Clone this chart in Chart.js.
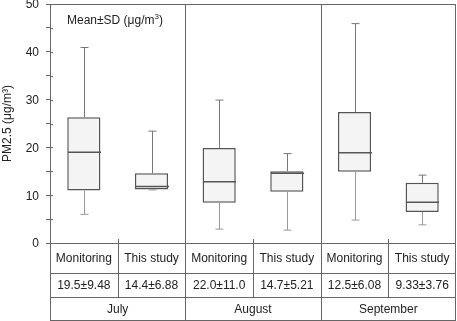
<!DOCTYPE html>
<html>
<head>
<meta charset="utf-8">
<script src="https://cdn.jsdelivr.net/npm/chart.js@4.4.1/dist/chart.umd.min.js"></script>
<style>
  html, body { margin: 0; padding: 0; background: #fff; }
  #wrap { width: 457px; height: 321px; }
</style>
</head>
<body>
<div id="wrap"><canvas id="c"></canvas></div>
<script>
/* data */
const categories = ["Monitoring", "This study", "Monitoring", "This study", "Monitoring", "This study"];
const months = ["July", "August", "September"];
const meanSd = ["19.5±9.48", "14.4±6.88", "22.0±11.0", "14.7±5.21", "12.5±6.08", "9.33±3.76"];
const whiskerLow = [6.0, 11.1, 2.9, 2.7, 4.8, 3.8];
const q1 = [11.0, 11.2, 8.4, 10.7, 14.9, 6.5];
const median = [19.0, 11.8, 12.8, 14.6, 18.9, 8.5];
const q3 = [26.3, 14.6, 19.9, 15.0, 27.4, 12.6];
const whiskerHigh = [40.9, 23.4, 29.9, 18.7, 45.9, 14.2];

const FONT = "Liberation Sans, Arial, sans-serif";
const LINE = "#666";
const TEXT = "#222";

const boxExtras = {
  id: "boxExtras",
  afterDatasetsDraw(chart) {
    const { ctx, scales: { x, y } } = chart;
    const meta = chart.getDatasetMeta(0);
    ctx.save();
    categories.forEach((_, i) => {
      const cx = Math.round(x.getPixelForValue(i)) + 0.5;
      const half = meta.data[i].width / 2;
      const cap = 4;
      const yHi = y.getPixelForValue(whiskerHigh[i]);
      const yQ3 = y.getPixelForValue(q3[i]);
      const yQ1 = y.getPixelForValue(q1[i]);
      const yLo = y.getPixelForValue(whiskerLow[i]);
      const yMed = y.getPixelForValue(median[i]);
      ctx.lineWidth = 1;
      ctx.strokeStyle = "#777";
      ctx.beginPath();
      ctx.moveTo(cx, yHi); ctx.lineTo(cx, yQ3);
      ctx.moveTo(cx - cap, yHi); ctx.lineTo(cx + cap, yHi);
      ctx.stroke();
      ctx.strokeStyle = "#999";
      ctx.beginPath();
      ctx.moveTo(cx, yQ1); ctx.lineTo(cx, yLo);
      ctx.moveTo(cx - cap, yLo); ctx.lineTo(cx + cap, yLo);
      ctx.stroke();
      ctx.strokeStyle = "#555";
      ctx.lineWidth = 1.5;
      ctx.beginPath();
      ctx.moveTo(cx - half, yMed); ctx.lineTo(cx + half, yMed);
      ctx.stroke();
    });
    ctx.restore();
  },
  afterDraw(chart) {
    const { ctx, chartArea: { left, right, top, bottom }, scales: { x, y } } = chart;
    ctx.save();
    ctx.strokeStyle = LINE;
    ctx.lineWidth = 1;

    // inward half of the y ticks
    ctx.beginPath();
    y.ticks.forEach(t => {
      const py = Math.round(y.getPixelForValue(t.value)) + 0.5;
      ctx.moveTo(left, py); ctx.lineTo(left + 3, py);
    });
    ctx.stroke();

    // y tick labels (every 10)
    ctx.fillStyle = TEXT;
    ctx.font = "12px " + FONT;
    ctx.textAlign = "right";
    ctx.textBaseline = "middle";
    y.ticks.forEach(t => {
      if (t.value % 10 === 0) ctx.fillText(String(t.value), left - 11, y.getPixelForValue(t.value) + 1);
    });

    // table geometry
    const rows = [bottom, bottom + 30, bottom + 54, bottom + 77];
    const bounds = [left];
    for (let i = 0; i < categories.length - 1; i++) {
      bounds.push((x.getPixelForValue(i) + x.getPixelForValue(i + 1)) / 2);
    }
    bounds.push(right);
    const px = v => Math.round(v) + 0.5;

    ctx.beginPath();
    // top border of plot
    ctx.moveTo(left, px(top)); ctx.lineTo(right, px(top));
    rows.forEach(r => { ctx.moveTo(left, px(r)); ctx.lineTo(right, px(r)); });
    // outer verticals
    ctx.moveTo(px(left), top); ctx.lineTo(px(left), rows[3]);
    ctx.moveTo(px(right) - 1, top); ctx.lineTo(px(right) - 1, rows[3]);
    // month dividers and category dividers
    for (let i = 1; i < bounds.length - 1; i++) {
      if (i % 2 === 0) {
        ctx.moveTo(px(bounds[i]), top); ctx.lineTo(px(bounds[i]), rows[3]);
      } else {
        ctx.moveTo(px(bounds[i]), bottom - 4); ctx.lineTo(px(bounds[i]), rows[2]);
      }
    }
    ctx.stroke();

    ctx.textAlign = "center";
    categories.forEach((c, i) => {
      const cx = (bounds[i] + bounds[i + 1]) / 2;
      ctx.fillText(c, cx, (rows[0] + rows[1]) / 2 + 1);
      ctx.fillText(meanSd[i], cx, (rows[1] + rows[2]) / 2 + 1);
    });
    months.forEach((m, j) => {
      const cx = (bounds[2 * j] + bounds[2 * j + 2]) / 2;
      ctx.fillText(m, cx, (rows[2] + rows[3]) / 2 + 1);
    });

    // "Mean±SD (μg/m3)" note with superscript
    ctx.textAlign = "left";
    ctx.textBaseline = "alphabetic";
    let tx = left + 17;
    const ty = top + 20;
    const main = "Mean±SD (μg/m";
    ctx.fillText(main, tx, ty);
    tx += ctx.measureText(main).width;
    ctx.font = "8px " + FONT;
    ctx.fillText("3", tx, ty - 5);
    tx += ctx.measureText("3").width;
    ctx.font = "12px " + FONT;
    ctx.fillText(")", tx, ty);
    ctx.restore();
  },
};

Chart.register(boxExtras);

new Chart(document.getElementById("c"), {
  type: "bar",
  data: {
    labels: categories,
    datasets: [{
      data: q1.map((v, i) => [v, q3[i]]),
      backgroundColor: "#f4f4f4",
      borderColor: "#555",
      borderWidth: 1.5,
      borderSkipped: false,
      barPercentage: 0.49,
      categoryPercentage: 1,
    }],
  },
  options: {
    responsive: true,
    maintainAspectRatio: false,
    animation: false,
    events: [],
    layout: {
      autoPadding: false,
      padding: { top: 4, right: 1, bottom: 78, left: 0 },
    },
    plugins: {
      legend: { display: false },
      tooltip: { enabled: false },
    },
    scales: {
      x: { display: false, offset: true },
      y: {
        min: 0,
        max: 50,
        afterFit(scale) { scale.width = 50; },
        border: { display: true, color: LINE, width: 1 },
        grid: { drawOnChartArea: false, drawTicks: true, tickLength: 4, color: LINE },
        ticks: { stepSize: 5, display: false },
        title: {
          display: true,
          text: "PM2.5 (μg/m³)",
          color: TEXT,
          font: { family: FONT, size: 12 },
          padding: { top: 0, bottom: 0 },
        },
      },
    },
  },
});
</script>
</body>
</html>
